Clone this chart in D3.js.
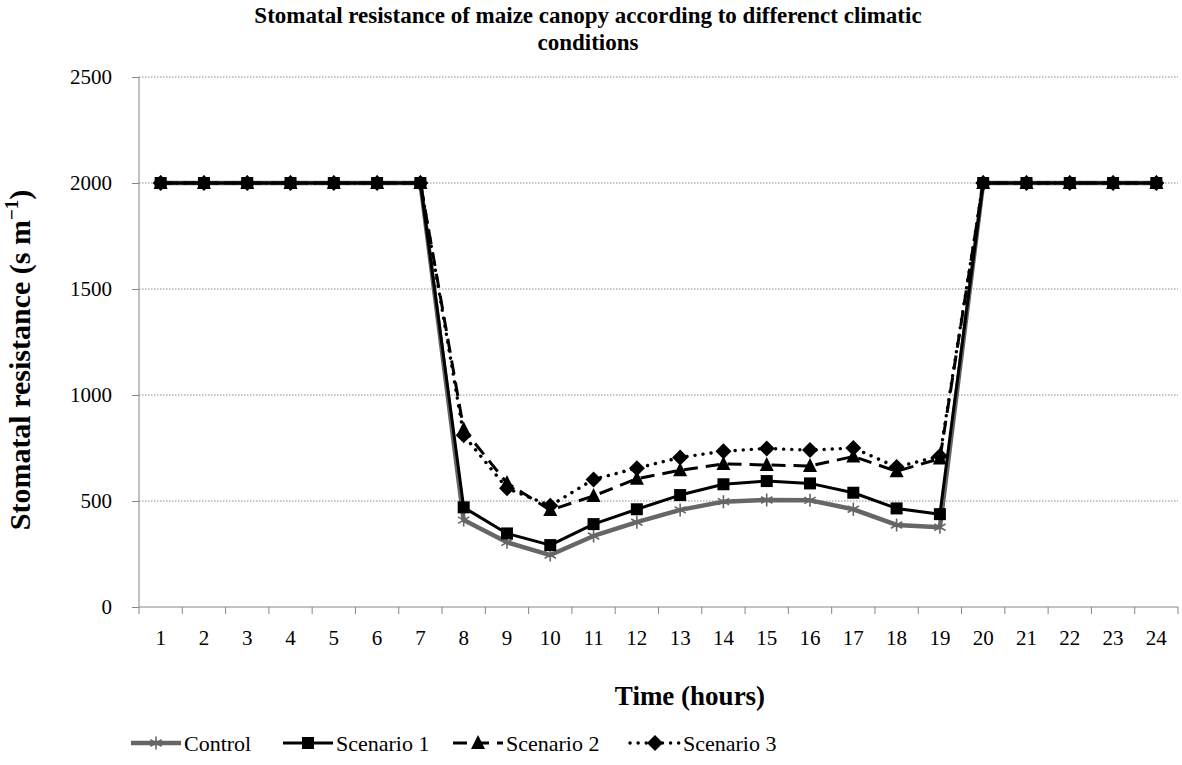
<!DOCTYPE html>
<html><head><meta charset="utf-8">
<script src="https://cdn.jsdelivr.net/npm/d3@7"></script>
<style>body{margin:0;background:#fff}svg{display:block}svg text{font-family:"Liberation Serif","Times New Roman",serif !important}</style>
</head><body><svg id="c" width="1182" height="765" style="font-family:'Liberation Serif',serif"></svg>
<script>
const hours = ["1","2","3","4","5","6","7","8","9","10","11","12","13","14","15","16","17","18","19","20","21","22","23","24"];
const control   = [2000,2000,2000,2000,2000,2000,2000,410,305,245,335,400,458,497,505,503,461,387,376,2000,2000,2000,2000,2000];
const scenario1 = [2000,2000,2000,2000,2000,2000,2000,470,347,292,391,461,528,579,594,583,539,465,438,2000,2000,2000,2000,2000];
const scenario2 = [2000,2000,2000,2000,2000,2000,2000,838,585,457,524,605,645,675,670,665,710,640,700,2000,2000,2000,2000,2000];
const scenario3 = [2000,2000,2000,2000,2000,2000,2000,810,560,478,602,655,705,735,748,740,750,660,712,2000,2000,2000,2000,2000];
const seriesNames = ["Control","Scenario 1","Scenario 2","Scenario 3"];
const yTicks = [0,500,1000,1500,2000,2500];

const svg = d3.select("#c");
const L=139, R=1178, T=77, B=607;
const x = d3.scaleBand().domain(hours).range([L,R]);
const y = d3.scaleLinear().domain([0,2500]).range([B,T]);
const FONT = "Liberation Serif";

svg.append("g").selectAll("line").data(yTicks.filter(d=>d>0)).join("line")
  .attr("x1",L).attr("x2",R).attr("y1",d=>y(d)).attr("y2",d=>y(d))
  .attr("stroke","#8c8c8c").attr("stroke-width",1).attr("stroke-dasharray","1.5,1.5");

const ya = svg.append("g").attr("transform",`translate(${L},0)`)
  .call(d3.axisLeft(y).tickValues(yTicks).tickSize(7).tickPadding(20).tickFormat(d3.format("d")));
ya.attr("font-family",FONT);
ya.select(".domain").attr("stroke","#868686").attr("d",`M0,${T}V${B}`);
ya.selectAll(".tick line").attr("stroke","#868686");
ya.selectAll("text").attr("font-size",21).attr("fill","#000");

const xa = svg.append("g").attr("transform",`translate(0,${B})`)
  .call(d3.axisBottom(x).tickSize(0).tickPadding(23));
xa.attr("font-family",FONT);
xa.select(".domain").attr("stroke","#868686").attr("d",`M${L},0H${R}`);
xa.selectAll("text").attr("font-size",21).attr("fill","#000");
svg.append("g").selectAll("line").data(d3.range(hours.length+1)).join("line")
  .attr("x1",i=>L+i*x.step()).attr("x2",i=>L+i*x.step()).attr("y1",B).attr("y2",B+7)
  .attr("stroke","#868686");

const cx = h => x(h)+x.bandwidth()/2;

const styles = [
  {data:control, color:"#666666", width:4.5, dash:null, marker:"star"},
  {data:scenario1, color:"#000", width:3, dash:null, marker:"square"},
  {data:scenario2, color:"#000", width:3, dash:"14,8", marker:"triangle"},
  {data:scenario3, color:"#000", width:3.4, dash:"0.1,8", marker:"diamond"}
];
const line = d3.line().x((d,i)=>cx(hours[i])).y(d=>y(d));

function drawMarker(g, type, color, px, py){
  if(type==="star"){
    const s=6.5;
    g.append("path").attr("d",`M${px},${py-s}V${py+s}M${px-s*0.87},${py-s*0.5}L${px+s*0.87},${py+s*0.5}M${px-s*0.87},${py+s*0.5}L${px+s*0.87},${py-s*0.5}`)
      .attr("stroke",color).attr("stroke-width",1.6).attr("fill","none");
  } else if(type==="square"){
    g.append("rect").attr("x",px-6).attr("y",py-6).attr("width",12).attr("height",12).attr("fill","#000");
  } else if(type==="triangle"){
    g.append("path").attr("d",`M${px},${py-8}L${px+7},${py+6}L${px-7},${py+6}Z`).attr("fill","#000");
  } else if(type==="diamond"){
    g.append("path").attr("d",`M${px},${py-8}L${px+8},${py}L${px},${py+8}L${px-8},${py}Z`).attr("fill","#000");
  }
}

styles.forEach(s=>{
  const g = svg.append("g");
  const p = g.append("path").datum(s.data).attr("d",line).attr("fill","none")
    .attr("stroke",s.color).attr("stroke-width",s.width).attr("stroke-linejoin","round");
  if(s.dash){p.attr("stroke-dasharray",s.dash); if(s.marker==="diamond") p.attr("stroke-linecap","round");}
  s.data.forEach((v,i)=>drawMarker(g,s.marker,s.color,cx(hours[i]),y(v)));
});

svg.append("text").attr("x",588).attr("y",23).attr("text-anchor","middle").attr("font-size",23).attr("font-weight","bold").attr("font-family",FONT)
  .text("Stomatal resistance of maize canopy according to differenct climatic");
svg.append("text").attr("x",588).attr("y",50).attr("text-anchor","middle").attr("font-size",23).attr("font-weight","bold").attr("font-family",FONT)
  .text("conditions");
svg.append("text").attr("x",690).attr("y",705).attr("text-anchor","middle").attr("font-size",27).attr("font-weight","bold").attr("font-family",FONT)
  .text("Time (hours)");
const yt = svg.append("text").attr("transform","translate(30,360) rotate(-90)").attr("text-anchor","middle")
  .attr("font-size",30).attr("font-weight","bold").attr("font-family",FONT);
yt.append("tspan").text("Stomatal resistance (s m");
yt.append("tspan").attr("dy",-12).attr("font-size",19).text("−1");
yt.append("tspan").attr("dy",12).text(")");

const legX = [131,283,453,630];
const legY = 743;
styles.forEach((s,i)=>{
  const g = svg.append("g");
  const x0 = legX[i], x1 = x0+50;
  const p = g.append("line").attr("x1",x0).attr("x2",x1).attr("y1",legY).attr("y2",legY)
    .attr("stroke",s.color).attr("stroke-width",s.width);
  if(s.dash){p.attr("stroke-dasharray",s.dash); if(s.marker==="diamond") p.attr("stroke-linecap","round");}
  drawMarker(g,s.marker,s.color,(x0+x1)/2,legY);
  g.append("text").attr("x",x1+3).attr("y",legY+8).attr("font-size",22).attr("font-family",FONT).text(seriesNames[i]);
});
</script></body></html>
